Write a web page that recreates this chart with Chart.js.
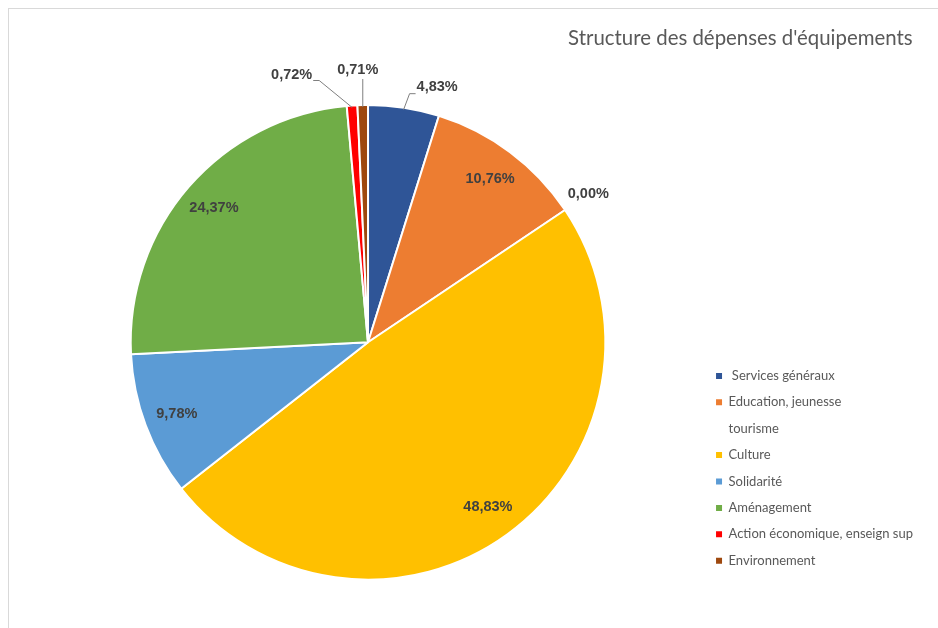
<!DOCTYPE html>
<html>
<head>
<meta charset="utf-8">
<script src="https://cdn.jsdelivr.net/npm/chart.js@4"></script>
<style>
  body { margin: 0; background: #fff; overflow: hidden; }
</style>
</head>
<body>
<canvas id="chart" width="938" height="628"></canvas>
<script>
const categories = [
  ' Services généraux',
  'Education, jeunesse',
  'tourisme',
  'Culture',
  'Solidarité',
  'Aménagement',
  'Action économique, enseign sup',
  'Environnement',
];
const shares = [4.83, 10.76, 0.00, 48.83, 9.78, 24.37, 0.72, 0.71];
const colors = ['#2F5597', '#ED7D31', '#FFFFFF', '#FFC000', '#5B9BD5', '#70AD47', '#FF0000', '#9E480E'];
const title = "Structure des dépenses d'équipements";

// where each percentage goes: inside, just outside, or outside with a leader line
const placement = [
  { type: 'leader', elbow: [6, -16], align: 'left' },
  { type: 'in' },
  { type: 'out', dist: 28 },
  { type: 'in' },
  { type: 'in' },
  { type: 'in' },
  { type: 'leader', elbow: [-33, -27], align: 'right' },
  { type: 'leader', elbow: [0, -28], align: 'center' },
];

const fmt = v => v.toFixed(2).replace('.', ',') + '%';

const frame = {
  id: 'frame',
  beforeDraw(chart) {
    const ctx = chart.ctx;
    ctx.save();
    ctx.strokeStyle = '#d9d9d9';
    ctx.lineWidth = 1;
    ctx.strokeRect(8.5, 8.5, 2000, 2000);
    ctx.restore();
  }
};

const pieLabels = {
  id: 'pieLabels',
  afterDatasetsDraw(chart) {
    const ctx = chart.ctx;
    const meta = chart.getDatasetMeta(0);
    ctx.save();
    ctx.font = 'bold 14.5px "Liberation Sans"';
    ctx.fillStyle = '#404040';
    ctx.strokeStyle = '#7f7f7f';
    ctx.lineWidth = 1;
    meta.data.forEach((arc, i) => {
      const { x, y, startAngle, endAngle, outerRadius } = arc.getProps(['x', 'y', 'startAngle', 'endAngle', 'outerRadius'], true);
      const mid = (startAngle + endAngle) / 2;
      const text = fmt(shares[i]);
      const p = placement[i];
      if (p.type === 'in') {
        const r = outerRadius * 0.86;
        ctx.textAlign = 'center';
        ctx.textBaseline = 'middle';
        ctx.fillText(text, x + Math.cos(mid) * r, y + Math.sin(mid) * r);
      } else if (p.type === 'out') {
        const r = outerRadius + p.dist;
        ctx.textAlign = 'center';
        ctx.textBaseline = 'middle';
        ctx.fillText(text, x + Math.cos(mid) * r, y + Math.sin(mid) * r);
      } else {
        const ax = x + Math.cos(mid) * (outerRadius - 2);
        const ay = y + Math.sin(mid) * (outerRadius - 2);
        const ex = ax + p.elbow[0];
        const ey = ay + p.elbow[1];
        ctx.beginPath();
        ctx.moveTo(ax, ay);
        ctx.lineTo(ex, ey);
        if (p.align === 'left') ctx.lineTo(ex + 6, ey);
        if (p.align === 'right') ctx.lineTo(ex - 6, ey);
        ctx.stroke();
        ctx.textBaseline = 'middle';
        if (p.align === 'left') {
          ctx.textAlign = 'left';
          ctx.fillText(text, ex + 7, ey - 7);
        } else if (p.align === 'right') {
          ctx.textAlign = 'right';
          ctx.fillText(text, ex - 7, ey - 6);
        } else {
          ctx.textAlign = 'center';
          ctx.fillText(text, ex - 5, ey - 9);
        }
      }
    });
    ctx.restore();
  }
};

new Chart(document.getElementById('chart'), {
  type: 'pie',
  data: {
    labels: categories,
    datasets: [{
      data: shares,
      backgroundColor: colors,
      borderColor: '#ffffff',
      borderWidth: 2,
    }]
  },
  options: {
    responsive: false,
    devicePixelRatio: 1,
    animation: false,
    events: [],
    layout: { padding: { left: 33.4, right: 15, top: 0, bottom: 47.4 } },
    plugins: {
      tooltip: { enabled: false },
      title: {
        display: true,
        // trailing spaces keep the title's right edge off the legend's edge
        text: title + '\u00a0\u00a0',
        align: 'end',
        color: '#595959',
        font: { family: 'Lato', size: 20.4, weight: 'normal' },
        padding: { top: 26, bottom: 53.5 },
      },
      legend: {
        position: 'right',
        align: 'end',
        labels: {
          boxWidth: 6,
          boxHeight: 6,
          padding: 13.4,
          color: '#595959',
          font: { family: 'Lato', size: 13 },
          generateLabels(chart) {
            const items = Chart.overrides.pie.plugins.legend.labels.generateLabels(chart);
            return items.map(it => Object.assign(it, { lineWidth: 0, strokeStyle: it.fillStyle }));
          }
        }
      }
    }
  },
  plugins: [frame, pieLabels]
});
</script>
</body>
</html>
